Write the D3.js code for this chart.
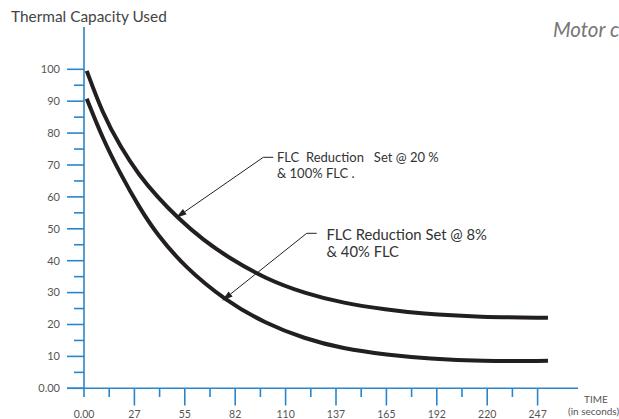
<!DOCTYPE html>
<html><head><meta charset="utf-8">
<script src="https://cdn.jsdelivr.net/npm/d3@7"></script>
<style>
html,body{margin:0;padding:0;background:#fff;overflow:hidden;}
svg{display:block;font-family:Lato,"Noto Sans",sans-serif;}
</style></head>
<body>
<svg id="chart" width="619" height="419"></svg>
<script>
// ---- data ----
const xTickLabels = ["0.00","27","55","82","110","137","165","192","220","247"];
const xTickStep = 27.45;
const yTickValues = [0,10,20,30,40,50,60,70,80,90,100];
const yTickLabels = ["0.00","10","20","30","40","50","60","70","80","90","100"];

const seriesTime20 = [1.5, 10, 20, 30, 40, 50.5, 65.0, 79.5, 98.6, 120.4, 141.2, 165, 183, 215.7, 252.7];
const seriesValue20 = [99.5, 86.3, 75.5, 66.8, 60.0, 53.7, 46.4, 40.7, 34.4, 29.7, 26.7, 24.6, 23.4, 22.3, 22.1];

const seriesTime8 = [1.5, 10, 20, 30, 40, 55, 77, 99, 120, 141, 165, 188, 216, 252.7];
const seriesValue8 = [90.8, 78.5, 67.0, 56.8, 48.0, 38.0, 27.5, 20.3, 15.6, 12.4, 10.5, 9.3, 8.5, 8.6];

const annotation20 = ["FLC  Reduction   Set @ 20 %", "& 100% FLC ."];
const annotation8 = ["FLC Reduction Set @ 8%", "& 40% FLC"];

// ---- scales ----
const svg = d3.select("#chart");
const x = d3.scaleLinear().domain([0, xTickStep]).range([84, 134.4]);
const y = d3.scaleLinear().domain([0, 100]).range([388.3, 69.3]);
const axisColor = "#2a86c8";
const textColor = "#555";

// title texts
svg.append("text").attr("x", 11).attr("y", 21.5).attr("font-size", 15.4).attr("fill", "#444")
  .text("Thermal Capacity Used");
svg.append("text").attr("x", 553).attr("y", 37).attr("font-size", 20.5).attr("font-style", "italic")
  .attr("fill", "#777").text("Motor c");

// y axis
const ya = svg.append("g").attr("stroke", axisColor).attr("stroke-width", 1.6);
ya.append("line").attr("x1", 84).attr("x2", 84).attr("y1", 27).attr("y2", 397);
yTickValues.forEach(v => {
  ya.append("line").attr("x1", 67).attr("x2", 84).attr("y1", y(v)).attr("y2", y(v));
  if (v < 100) ya.append("line").attr("x1", 74).attr("x2", 84).attr("y1", y(v + 5)).attr("y2", y(v + 5));
});
svg.append("g").selectAll("text").data(yTickValues).join("text")
  .attr("x", 60).attr("y", d => y(d)).attr("dy", "0.35em").attr("text-anchor", "end")
  .attr("font-size", 11).attr("fill", textColor).text((d, i) => yTickLabels[i]);

// x axis
const xa = svg.append("g").attr("stroke", axisColor).attr("stroke-width", 1.6);
xa.append("line").attr("x1", 67).attr("x2", 578).attr("y1", y(0)).attr("y2", y(0));
xTickLabels.forEach((l, i) => {
  if (i > 0) xa.append("line").attr("x1", x(i * xTickStep)).attr("x2", x(i * xTickStep))
    .attr("y1", y(0)).attr("y2", 405.5);
  if (i < xTickLabels.length - 1) xa.append("line").attr("x1", x((i + 0.5) * xTickStep)).attr("x2", x((i + 0.5) * xTickStep))
    .attr("y1", y(0)).attr("y2", 397);
});
svg.append("g").selectAll("text").data(xTickLabels).join("text")
  .attr("x", (d, i) => x(i * xTickStep)).attr("y", 418).attr("text-anchor", "middle")
  .attr("font-size", 10.5).attr("fill", textColor).text(d => d);
svg.append("text").attr("x", 596).attr("y", 403).attr("text-anchor", "middle").attr("font-size", 10)
  .attr("fill", textColor).text("TIME");
svg.append("text").attr("x", 568).attr("y", 415).attr("font-size", 10)
  .attr("fill", textColor).text("(in seconds)");

// curves
const line = d3.line().x(d => x(d[0])).y(d => y(d[1])).curve(d3.curveBasis);
[[seriesTime20, seriesValue20], [seriesTime8, seriesValue8]].forEach(([t, v]) => {
  svg.append("path").datum(t.map((tt, i) => [tt, v[i]])).attr("d", line)
    .attr("fill", "none").attr("stroke", "#231f20").attr("stroke-width", 4);
});

// annotations with arrows
function arrow(x0, y0, tx, ty) {
  const g = svg.append("g");
  g.append("line").attr("x1", x0 + 10).attr("x2", x0).attr("y1", y0).attr("y2", y0)
    .attr("stroke", "#222").attr("stroke-width", 1);
  const ang = Math.atan2(ty - y0, tx - x0);
  const L = 11, W = 3.2;
  const bx = tx - L * Math.cos(ang), by = ty - L * Math.sin(ang);
  g.append("line").attr("x1", x0).attr("y1", y0).attr("x2", bx).attr("y2", by)
    .attr("stroke", "#222").attr("stroke-width", 1);
  const px = -Math.sin(ang) * W, py = Math.cos(ang) * W;
  g.append("path").attr("d", `M${tx},${ty}L${bx + px},${by + py}L${bx - px},${by - py}Z`).attr("fill", "#222");
}
arrow(263.3, 157.3, x(50.5) - 1, y(53.7) + 1);
arrow(306.7, 233.3, x(76.8) - 3, y(27.1) - 1);

svg.append("g").selectAll("text").data(annotation20).join("text")
  .attr("x", 277).attr("y", (d, i) => 161.7 + i * 16.6).attr("font-size", 13)
  .attr("fill", "#333").style("white-space", "pre").text(d => d);
svg.append("g").selectAll("text").data(annotation8).join("text")
  .attr("x", 326.5).attr("y", (d, i) => 240 + i * 17.3).attr("font-size", 14.8)
  .attr("fill", "#333").text(d => d);
</script>
</body></html>
